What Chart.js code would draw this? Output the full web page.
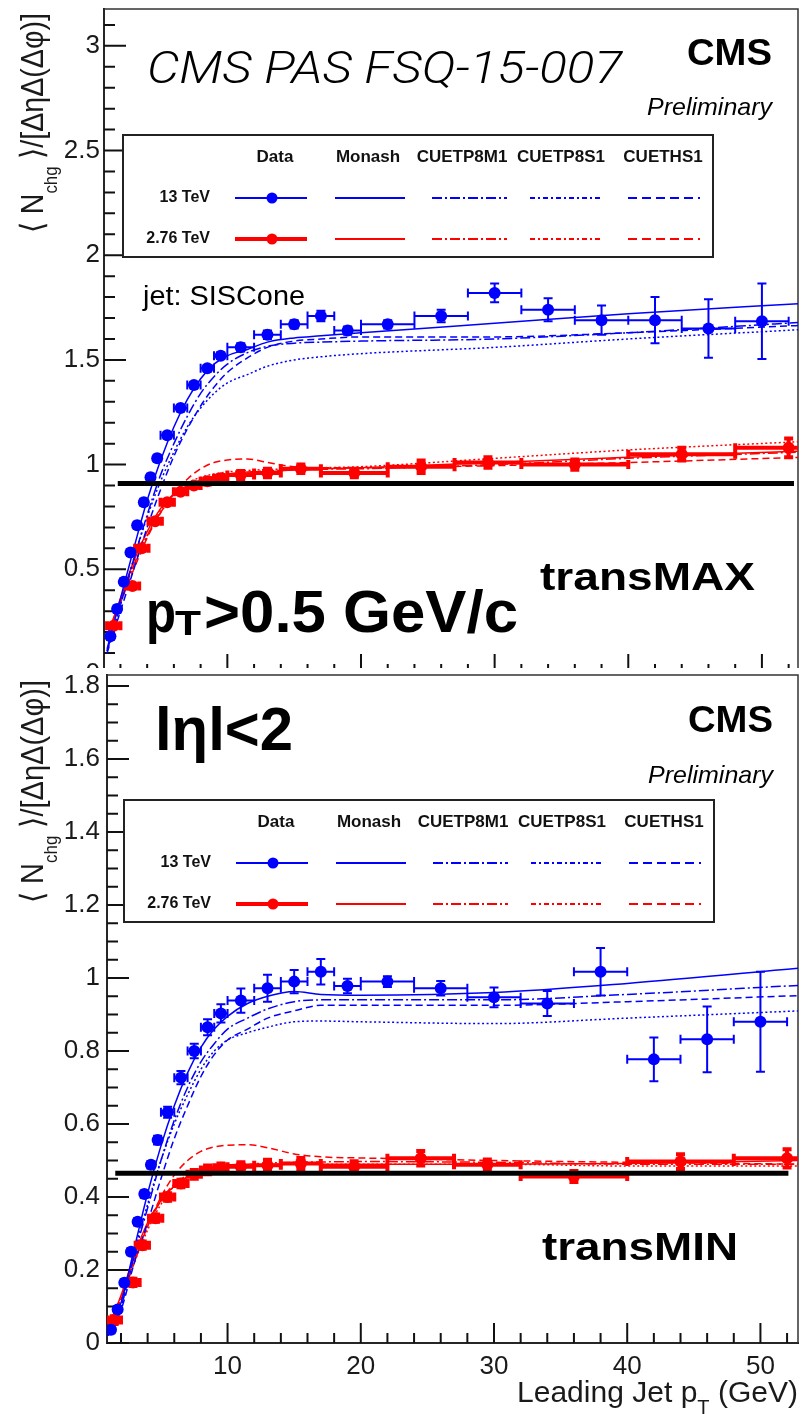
<!DOCTYPE html>
<html>
<head>
<meta charset="utf-8">
<script src="https://cdn.jsdelivr.net/npm/chart.js@4.4.1/dist/chart.umd.min.js"></script>
<style>
  html, body { margin: 0; padding: 0; background: #fff; }
  #wrap { position: relative; width: 804px; height: 1414px; overflow: hidden; background: #fff; }
  #c1 { position: absolute; left: 0; top: 0; }
  #c2 { position: absolute; left: 0; top: 668px; background: #fff; }
</style>
</head>
<body>
<div id="wrap">
  <canvas id="c1" width="804" height="680"></canvas>
  <canvas id="c2" width="804" height="746"></canvas>
</div>
<script>
var BLUE = '#0000ff', RED = '#ff0000';
var FONT = '"Liberation Sans", Arial, Helvetica, sans-serif';

// bin centres and half widths of the data (same for both panels)
var x13 = [1.25, 1.75, 2.25, 2.75, 3.25, 3.75, 4.25, 4.75, 5.5, 6.5, 7.5, 8.5, 9.5, 11, 13, 15, 17, 19, 22, 26, 30, 34, 38, 42, 46, 50];
var ex13 = [0.25, 0.25, 0.25, 0.25, 0.25, 0.25, 0.25, 0.25, 0.5, 0.5, 0.5, 0.5, 0.5, 1, 1, 1, 1, 1, 2, 2, 2, 2, 2, 2, 2, 2];
var x276 = [1.5, 2.9, 3.6, 4.6, 5.5, 6.5, 7.5, 8.5, 9.5, 11, 13, 15.5, 19.5, 24.5, 29.5, 36, 44, 52];
var ex276 = [0.5, 0.5, 0.5, 0.5, 0.5, 0.5, 0.5, 0.5, 0.5, 1, 1, 1.5, 2.5, 2.5, 2.5, 4, 4, 4];

// transMAX data
var maxY13 = [0.18, 0.31, 0.44, 0.58, 0.71, 0.82, 0.94, 1.03, 1.14, 1.27, 1.38, 1.46, 1.52, 1.56, 1.62, 1.67, 1.71, 1.64, 1.67, 1.71, 1.82, 1.74, 1.69, 1.69, 1.65, 1.685];
var maxEy13 = [0.01, 0.01, 0.01, 0.01, 0.01, 0.01, 0.012, 0.012, 0.015, 0.015, 0.015, 0.015, 0.015, 0.02, 0.02, 0.02, 0.025, 0.02, 0.02, 0.03, 0.045, 0.055, 0.07, 0.11, 0.14, 0.18];
var maxY276 = [0.23, 0.42, 0.60, 0.73, 0.82, 0.87, 0.90, 0.92, 0.935, 0.95, 0.96, 0.98, 0.96, 0.99, 1.01, 1.0, 1.05, 1.08];
var maxEy276 = [0.01, 0.01, 0.01, 0.01, 0.01, 0.01, 0.01, 0.015, 0.015, 0.02, 0.02, 0.02, 0.02, 0.03, 0.025, 0.025, 0.03, 0.045];

// transMIN data
var minY13 = [0.036, 0.092, 0.165, 0.25, 0.332, 0.408, 0.488, 0.556, 0.632, 0.727, 0.80, 0.865, 0.903, 0.938, 0.972, 0.99, 1.017, 0.978, 0.99, 0.972, 0.947, 0.93, 1.017, 0.777, 0.832, 0.88];
var minEy13 = [0.005, 0.006, 0.008, 0.008, 0.01, 0.01, 0.01, 0.012, 0.015, 0.018, 0.02, 0.022, 0.025, 0.033, 0.037, 0.032, 0.035, 0.02, 0.015, 0.02, 0.027, 0.034, 0.065, 0.06, 0.09, 0.137];
var minY276 = [0.063, 0.166, 0.268, 0.342, 0.40, 0.437, 0.462, 0.474, 0.48, 0.483, 0.487, 0.492, 0.483, 0.506, 0.488, 0.456, 0.497, 0.506];
var minEy276 = [0.01, 0.01, 0.01, 0.01, 0.01, 0.01, 0.012, 0.012, 0.012, 0.012, 0.015, 0.015, 0.015, 0.02, 0.015, 0.015, 0.02, 0.025];

// generator curves, sampled at mcX
var mcX = [1, 2, 3, 4, 5, 6, 7, 8, 9, 10, 11.5, 13, 15, 17, 20, 30, 40, 53];
var maxMonash13 = [0.12, 0.36, 0.60, 0.83, 1.02, 1.18, 1.31, 1.41, 1.48, 1.52, 1.55, 1.585, 1.605, 1.615, 1.63, 1.675, 1.72, 1.77];
var maxM1_13 = [0.11, 0.33, 0.55, 0.76, 0.95, 1.10, 1.23, 1.34, 1.42, 1.48, 1.535, 1.565, 1.58, 1.585, 1.59, 1.60, 1.63, 1.68];
var maxS1_13 = [0.11, 0.33, 0.55, 0.75, 0.92, 1.06, 1.18, 1.27, 1.34, 1.39, 1.43, 1.47, 1.50, 1.515, 1.53, 1.56, 1.60, 1.645];
var maxHS1_13 = [0.10, 0.30, 0.50, 0.70, 0.88, 1.04, 1.17, 1.28, 1.37, 1.44, 1.51, 1.56, 1.59, 1.60, 1.61, 1.61, 1.63, 1.665];
var maxMonash276 = [0.18, 0.36, 0.54, 0.68, 0.79, 0.86, 0.90, 0.925, 0.94, 0.95, 0.96, 0.965, 0.975, 0.98, 0.985, 1.01, 1.035, 1.065];
var maxM1_276 = [0.18, 0.35, 0.52, 0.66, 0.77, 0.85, 0.895, 0.925, 0.945, 0.955, 0.965, 0.97, 0.975, 0.978, 0.98, 1.0, 1.03, 1.06];
var maxS1_276 = [0.18, 0.35, 0.52, 0.66, 0.78, 0.86, 0.91, 0.94, 0.955, 0.965, 0.972, 0.977, 0.98, 0.985, 0.99, 1.03, 1.07, 1.11];
var maxHS1_276 = [0.18, 0.34, 0.50, 0.65, 0.77, 0.86, 0.93, 0.98, 1.01, 1.022, 1.027, 1.01, 0.99, 0.985, 0.985, 0.995, 1.01, 1.035];

var minMonash13 = [0.02, 0.11, 0.26, 0.41, 0.54, 0.65, 0.74, 0.81, 0.86, 0.895, 0.93, 0.95, 0.963, 0.955, 0.953, 0.96, 0.985, 1.027];
var minM1_13 = [0.02, 0.10, 0.24, 0.37, 0.50, 0.61, 0.70, 0.77, 0.82, 0.86, 0.89, 0.915, 0.935, 0.94, 0.94, 0.94, 0.955, 0.98];
var minS1_13 = [0.02, 0.10, 0.25, 0.38, 0.50, 0.60, 0.68, 0.75, 0.80, 0.83, 0.85, 0.865, 0.88, 0.882, 0.88, 0.875, 0.89, 0.91];
var minHS1_13 = [0.02, 0.09, 0.22, 0.33, 0.45, 0.56, 0.65, 0.73, 0.79, 0.83, 0.86, 0.89, 0.91, 0.925, 0.925, 0.925, 0.935, 0.952];
var minMonash276 = [0.04, 0.13, 0.24, 0.33, 0.39, 0.43, 0.455, 0.47, 0.478, 0.483, 0.487, 0.489, 0.49, 0.49, 0.49, 0.49, 0.492, 0.50];
var minM1_276 = [0.04, 0.12, 0.23, 0.32, 0.39, 0.435, 0.46, 0.475, 0.483, 0.488, 0.49, 0.493, 0.495, 0.496, 0.497, 0.495, 0.49, 0.49];
var minS1_276 = [0.04, 0.12, 0.22, 0.31, 0.38, 0.43, 0.455, 0.47, 0.48, 0.485, 0.487, 0.488, 0.49, 0.49, 0.49, 0.49, 0.485, 0.485];
var minHS1_276 = [0.04, 0.12, 0.22, 0.32, 0.40, 0.46, 0.50, 0.525, 0.537, 0.542, 0.543, 0.535, 0.518, 0.51, 0.507, 0.50, 0.495, 0.49];

// thick black reference lines
var maxLineX = [1.8, 52.4], maxLineY = [0.91, 0.91];
var minLineX = [1.57, 52.1], minLineY = [0.465, 0.465];

// axis ticks
var maxYTicks = [0, 0.5, 1, 1.5, 2, 2.5, 3];
var minYTicks = [0, 0.2, 0.4, 0.6, 0.8, 1, 1.2, 1.4, 1.6, 1.8];
var xTicks = [10, 20, 30, 40, 50];

// legend text
var legendHeads = ['Data', 'Monash', 'CUETP8M1', 'CUETP8S1', 'CUETHS1'];
var legendRows = ['13 TeV', '2.76 TeV'];

var DASH = { monash: [], m1: [10, 3, 2, 3], s1: [2, 2.5], hs1: [7, 4] };

function pts(xs, ys) {
  return xs.map(function (x, i) { return { x: x, y: ys[i] }; });
}

function curve(label, ys, color, dash) {
  return {
    label: label, data: pts(mcX, ys), showLine: true, borderColor: color, borderWidth: 1.5,
    borderDash: dash, pointRadius: 0, fill: false, cubicInterpolationMode: 'monotone', order: 3
  };
}

function points(label, xs, ys, exs, eys, color, lw) {
  return {
    label: label, data: pts(xs, ys), backgroundColor: color, borderColor: color,
    pointRadius: 6, pointBorderWidth: 0, pointHoverRadius: 0, errX: exs, errY: eys, errW: lw, order: 1
  };
}

function hline(xs, ys) {
  return { label: 'ref', data: pts(xs, ys), showLine: true, borderColor: '#000', borderWidth: 5, pointRadius: 0, order: 0 };
}

// error bars drawn just before each data set's markers
var errorBars = {
  id: 'errorBars',
  beforeDatasetDraw: function (chart, args) {
    var ds = chart.data.datasets[args.index];
    if (!ds.errY) return;
    var xs = chart.scales.x, ys = chart.scales.y, ctx = chart.ctx, a = chart.chartArea;
    ctx.save();
    ctx.beginPath(); ctx.rect(a.left, a.top, a.right - a.left, a.bottom - a.top); ctx.clip();
    ctx.strokeStyle = ds.borderColor; ctx.lineWidth = ds.errW;
    ctx.beginPath();
    ds.data.forEach(function (p, i) {
      var px = xs.getPixelForValue(p.x), py = ys.getPixelForValue(p.y);
      var x1 = xs.getPixelForValue(p.x - ds.errX[i]), x2 = xs.getPixelForValue(p.x + ds.errX[i]);
      var y1 = ys.getPixelForValue(p.y + ds.errY[i]), y2 = ys.getPixelForValue(p.y - ds.errY[i]);
      var c = 4.5;
      ctx.moveTo(x1, py); ctx.lineTo(x2, py);
      ctx.moveTo(px, y1); ctx.lineTo(px, y2);
      ctx.moveTo(x1, py - c); ctx.lineTo(x1, py + c);
      ctx.moveTo(x2, py - c); ctx.lineTo(x2, py + c);
      ctx.moveTo(px - c, y1); ctx.lineTo(px + c, y1);
      ctx.moveTo(px - c, y2); ctx.lineTo(px + c, y2);
    });
    ctx.stroke();
    ctx.restore();
  }
};

// ROOT style frame with ticks pointing inwards
var rootAxes = {
  id: 'rootAxes',
  beforeDatasetsDraw: function (chart, args, opt) {
    var a = chart.chartArea, ctx = chart.ctx, xs = chart.scales.x, ys = chart.scales.y;
    var k, v, p, big;
    ctx.save();
    ctx.strokeStyle = '#333'; ctx.lineWidth = 1.5;
    ctx.strokeRect(a.left, a.top, a.right - a.left, a.bottom - a.top);
    ctx.strokeStyle = '#111'; ctx.lineWidth = 2;
    ctx.beginPath();
    for (k = Math.ceil(ys.min / opt.yMinor - 1e-6); k * opt.yMinor <= ys.max + 1e-9; k++) {
      v = k * opt.yMinor; p = ys.getPixelForValue(v);
      big = Math.abs(v / opt.yMajor - Math.round(v / opt.yMajor)) < 1e-6;
      ctx.moveTo(a.left, p); ctx.lineTo(a.left + (big ? 22 : 11), p);
    }
    for (k = Math.ceil(xs.min / opt.xMinor - 1e-6); k * opt.xMinor <= xs.max + 1e-9; k++) {
      v = k * opt.xMinor; p = xs.getPixelForValue(v);
      big = Math.abs(v / opt.xMajor - Math.round(v / opt.xMajor)) < 1e-6;
      ctx.moveTo(p, a.bottom); ctx.lineTo(p, a.bottom - (big ? 20 : 10));
    }
    ctx.stroke();
    ctx.restore();
  }
};

Chart.register(errorBars, rootAxes);

// text squeezed or stretched to the width seen in the picture
function fitText(ctx, str, x, y, font, width, align) {
  ctx.save();
  ctx.font = font;
  var w = ctx.measureText(str).width;
  var s = width ? width / w : 1;
  ctx.translate(align === 'right' ? x - w * s : x, y);
  ctx.scale(s, 1);
  ctx.textAlign = 'left'; ctx.textBaseline = 'alphabetic';
  ctx.fillStyle = '#000';
  ctx.fillText(str, 0, 0);
  ctx.restore();
}

function yTitle(ctx, xBase, yBottom, len) {
  var big = '29px ' + FONT, small = '17px ' + FONT;
  ctx.save();
  ctx.font = big;
  var w1 = ctx.measureText('\u27E8 N').width, w3 = ctx.measureText(' \u27E9/[\u0394\u03B7\u0394(\u0394\u03C6)]').width;
  ctx.font = small;
  var w2 = ctx.measureText('chg').width;
  var s = len / (w1 + w2 + w3);
  ctx.translate(xBase, yBottom);
  ctx.rotate(-Math.PI / 2);
  ctx.scale(s, 1.1);
  ctx.fillStyle = '#1a1a1a'; ctx.textAlign = 'left'; ctx.textBaseline = 'alphabetic';
  ctx.font = big; ctx.fillText('\u27E8 N', 0, 0);
  ctx.font = small; ctx.fillText('chg', w1, 13);
  ctx.font = big; ctx.fillText(' \u27E9/[\u0394\u03B7\u0394(\u0394\u03C6)]', w1 + w2, 0);
  ctx.restore();
}

function xTitle(ctx, right, base, width) {
  var big = '30px ' + FONT, small = '20px ' + FONT;
  ctx.save();
  ctx.font = big;
  var w1 = ctx.measureText('Leading Jet p').width, w3 = ctx.measureText(' (GeV)').width;
  ctx.font = small;
  var w2 = ctx.measureText('T').width;
  var s = width / (w1 + w2 + w3);
  ctx.translate(right - width, base);
  ctx.scale(s, 1);
  ctx.fillStyle = '#1a1a1a'; ctx.textAlign = 'left'; ctx.textBaseline = 'alphabetic';
  ctx.font = big; ctx.fillText('Leading Jet p', 0, 0);
  ctx.font = small; ctx.fillText('T', w1, 12);
  ctx.font = big; ctx.fillText(' (GeV)', w1 + w2, 0);
  ctx.restore();
}

function drawLegend(ctx, L, T) {
  var headX = [152, 245, 339, 438, 540];
  var seg = [[212, 282], [309, 384], [407, 479], [505, 577]];
  var dashes = [[], [10, 3, 2, 3], [5, 3, 2, 3], [9, 5]];
  ctx.save();
  ctx.fillStyle = '#fff'; ctx.fillRect(L, T, 590, 122);
  ctx.strokeStyle = '#222'; ctx.lineWidth = 2; ctx.strokeRect(L, T, 590, 122);
  ctx.fillStyle = '#111'; ctx.font = 'bold 17px ' + FONT;
  ctx.textAlign = 'center'; ctx.textBaseline = 'middle';
  legendHeads.forEach(function (h, i) { ctx.fillText(h, L + headX[i], T + 22); });
  ctx.textAlign = 'right'; ctx.font = 'bold 16px ' + FONT;
  ctx.fillText(legendRows[0], L + 87, T + 63);
  ctx.fillText(legendRows[1], L + 87, T + 104);
  [BLUE, RED].forEach(function (col, r) {
    var y = T + (r ? 104 : 63);
    ctx.strokeStyle = col; ctx.fillStyle = col;
    ctx.setLineDash([]); ctx.lineWidth = r ? 4 : 2;
    ctx.beginPath(); ctx.moveTo(L + 112, y); ctx.lineTo(L + 184, y); ctx.stroke();
    ctx.beginPath(); ctx.arc(L + 149, y, 5.5, 0, Math.PI * 2); ctx.fill();
    ctx.lineWidth = 2;
    seg.forEach(function (s, i) {
      ctx.setLineDash(dashes[i]);
      ctx.beginPath(); ctx.moveTo(L + s[0], y); ctx.lineTo(L + s[1], y); ctx.stroke();
    });
  });
  ctx.restore();
}

function numLabel(v) { return String(+Number(v).toFixed(2)); }

// keep the plot area where the picture has it: no room reserved for labels overhanging the ends
function noOverhang(s) { s.paddingTop = 0; s.paddingBottom = 0; s.paddingLeft = 0; s.paddingRight = 0; }

function panelOptions(o) {
  return {
    responsive: false, animation: false, events: [],
    layout: { padding: o.pad },
    plugins: {
      legend: { display: false }, tooltip: { enabled: false },
      rootAxes: { yMinor: o.yMinor, yMajor: o.yMajor, xMinor: 2, xMajor: 10 }
    },
    scales: {
      x: {
        type: 'linear', min: o.xMin, max: o.xMax,
        grid: { display: false, drawTicks: false },
        border: { display: true, color: '#000', width: 2 },
        ticks: { display: o.xLabels, autoSkip: false, maxRotation: 0, padding: 8, color: '#1a1a1a', font: { family: FONT, size: 26 }, callback: numLabel },
        afterBuildTicks: function (s) { s.ticks = xTicks.map(function (v) { return { value: v }; }); },
        afterFit: function (s) { s.height = o.xH; noOverhang(s); }
      },
      y: {
        type: 'linear', min: 0, max: o.yMax,
        grid: { display: false, drawTicks: false },
        border: { display: true, color: '#000', width: 2 },
        ticks: { autoSkip: false, padding: o.yPad, color: '#1a1a1a', font: { family: FONT, size: 26 }, callback: numLabel },
        afterBuildTicks: function (s) { s.ticks = o.yTicks.map(function (v) { return { value: v }; }); },
        afterFit: function (s) { s.width = o.yW; noOverhang(s); }
      }
    }
  };
}

// transMAX panel
new Chart(document.getElementById('c1'), {
  type: 'scatter',
  data: {
    datasets: [
      hline(maxLineX, maxLineY),
      points('13 TeV', x13, maxY13, ex13, maxEy13, BLUE, 2),
      points('2.76 TeV', x276, maxY276, ex276, maxEy276, RED, 4),
      curve('Monash 13', maxMonash13, BLUE, DASH.monash),
      curve('CUETP8M1 13', maxM1_13, BLUE, DASH.m1),
      curve('CUETP8S1 13', maxS1_13, BLUE, DASH.s1),
      curve('CUETHS1 13', maxHS1_13, BLUE, DASH.hs1),
      curve('Monash 2.76', maxMonash276, RED, DASH.monash),
      curve('CUETP8M1 2.76', maxM1_276, RED, DASH.m1),
      curve('CUETP8S1 2.76', maxS1_276, RED, DASH.s1),
      curve('CUETHS1 2.76', maxHS1_276, RED, DASH.hs1)
    ]
  },
  options: panelOptions({
    pad: { left: 0, top: 9, right: 4, bottom: 0 }, xMin: 0.77, xMax: 52.7, yMax: 3.176,
    yTicks: maxYTicks, yMinor: 0.1, yMajor: 0.5, xLabels: false, xH: 5, yW: 104, yPad: 4
  }),
  plugins: [{
    id: 'maxText',
    afterDraw: function (chart) {
      var ctx = chart.ctx;
      fitText(ctx, 'CMS PAS FSQ-15-007', 147, 83, 'italic 300 45px Roboto, ' + FONT, 475);
      fitText(ctx, 'CMS', 772, 65, 'bold 37px ' + FONT, 85, 'right');
      fitText(ctx, 'Preliminary', 772, 115, 'italic 24px ' + FONT, 125, 'right');
      fitText(ctx, 'jet: SISCone', 143, 305, '27px ' + FONT, 162);
      fitText(ctx, 'transMAX', 540, 590, 'bold 39px ' + FONT, 215);
      fitText(ctx, 'p', 146, 632, 'bold 59px ' + FONT, 30);
      fitText(ctx, 'T', 175, 635, 'bold 35px ' + FONT, 26);
      fitText(ctx, '>0.5 GeV/c', 204, 632, 'bold 59px ' + FONT, 314);
      drawLegend(ctx, 123, 135);
      yTitle(ctx, 43, 233, 220);
    }
  }]
});

// transMIN panel
new Chart(document.getElementById('c2'), {
  type: 'scatter',
  data: {
    datasets: [
      hline(minLineX, minLineY),
      points('13 TeV', x13, minY13, ex13, minEy13, BLUE, 2),
      points('2.76 TeV', x276, minY276, ex276, minEy276, RED, 4),
      curve('Monash 13', minMonash13, BLUE, DASH.monash),
      curve('CUETP8M1 13', minM1_13, BLUE, DASH.m1),
      curve('CUETP8S1 13', minS1_13, BLUE, DASH.s1),
      curve('CUETHS1 13', minHS1_13, BLUE, DASH.hs1),
      curve('Monash 2.76', minMonash276, RED, DASH.monash),
      curve('CUETP8M1 2.76', minM1_276, RED, DASH.m1),
      curve('CUETP8S1 2.76', minS1_276, RED, DASH.s1),
      curve('CUETHS1 2.76', minHS1_276, RED, DASH.hs1)
    ]
  },
  options: panelOptions({
    pad: { left: 0, top: 7, right: 2, bottom: 0 }, xMin: 0.95, xMax: 52.82, yMax: 1.83,
    yTicks: minYTicks, yMinor: 0.05, yMajor: 0.2, xLabels: true, xH: 71, yW: 107, yPad: 7
  }),
  plugins: [{
    id: 'minText',
    afterDraw: function (chart) {
      var ctx = chart.ctx;
      fitText(ctx, 'l\u03B7l<2', 155, 82, 'bold 62px ' + FONT, 138);
      fitText(ctx, 'CMS', 773, 64, 'bold 37px ' + FONT, 85, 'right');
      fitText(ctx, 'Preliminary', 773, 115, 'italic 24px ' + FONT, 125, 'right');
      fitText(ctx, 'transMIN', 542, 592, 'bold 39px ' + FONT, 196);
      drawLegend(ctx, 124, 132);
      yTitle(ctx, 43, 235, 223);
      xTitle(ctx, 798, 734, 281);
    }
  }]
});
</script>
</body>
</html>
